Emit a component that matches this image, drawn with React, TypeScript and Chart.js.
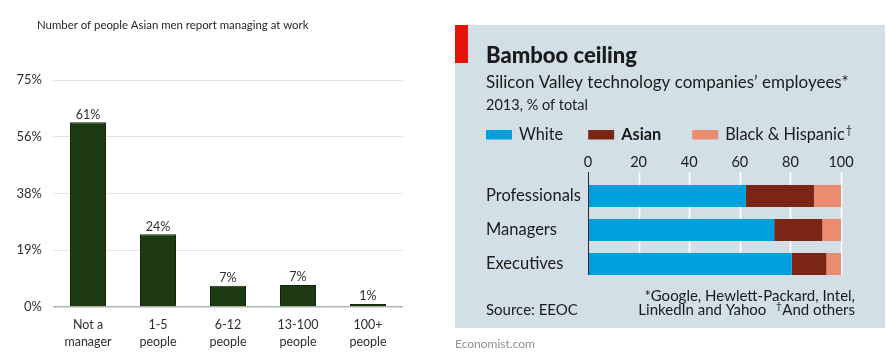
import { useEffect, useRef } from 'react';
import { Chart, registerables } from 'chart.js';

Chart.register(...registerables);

// ---------- Left chart data ----------
const managingTitle = 'Number of people Asian men report managing at work';
const managingCategories = [
  ['Not a', 'manager'],
  ['1-5', 'people'],
  ['6-12', 'people'],
  ['13-100', 'people'],
  ['100+', 'people'],
];
const managingShares = [61, 24, 7, 7.3, 1];
const managingTickValues = [0, 18.75, 37.5, 56.25, 75];

// ---------- Right chart data ----------
const panelTitle = 'Bamboo ceiling';
const panelSubtitle = 'Silicon Valley technology companies\u2019 employees*';
const panelUnits = '2013, % of total';
const roleCategories = ['Professionals', 'Managers', 'Executives'];
const seriesNames = ['White', 'Asian', 'Black & Hispanic'];
const whiteShares = [62.4, 73.6, 80.5];
const asianShares = [26.9, 19.0, 13.7];
const blackHispanicShares = [10.7, 7.4, 5.8];
const roleTickValues = [0, 20, 40, 60, 80, 100];
const highlightedSeries = 'Asian';
const legendGaps = [25, 31, 0];
const footnoteLine1 = '*Google, Hewlett-Packard, Intel,';
const footnoteLine2 = 'LinkedIn and Yahoo';
const footnoteOthers = 'And others';
const sourceText = 'Source: EEOC';
const creditText = 'Economist.com';

const GREEN = '#1d3a12';
const PANEL = '#d3dfe7';
const RED = '#e3120b';
const BLUE = '#00a0dc';
const BROWN = '#7b2516';
const SALMON = '#eb8b6f';
const INK = '#1a1a1a';
const LFONT = 'Lato';

const leftDecor = {
  id: 'leftDecor',
  afterDraw(chart: any) {
    const { ctx } = chart;
    ctx.save();
    ctx.fillStyle = '#262626';
    ctx.font = `11.4px ${LFONT}`;
    ctx.textAlign = 'left';
    ctx.textBaseline = 'alphabetic';
    ctx.fillText(managingTitle, 37, 29.3);
    const meta = chart.getDatasetMeta(0);
    ctx.font = `12.5px ${LFONT}`;
    ctx.fillStyle = '#2e2e2e';
    ctx.textAlign = 'center';
    meta.data.forEach((bar: any, i: number) => {
      const v = chart.data.datasets[0].data[i] as number;
      ctx.fillText(Math.round(v) + '%', bar.x, bar.y - 3.7);
    });
    ctx.restore();
  },
};

const rightDecor = {
  id: 'rightDecor',
  beforeDraw(chart: any) {
    const { ctx } = chart;
    ctx.save();
    ctx.fillStyle = PANEL;
    ctx.fillRect(10, 25, 430, 303);
    ctx.fillStyle = RED;
    ctx.fillRect(10, 25, 13, 38);
    ctx.restore();
  },
  beforeDatasetsDraw(chart: any) {
    const { ctx, chartArea } = chart;
    const xs = chart.scales.x;
    const meta = chart.getDatasetMeta(0);
    const last: any = meta.data[meta.data.length - 1];
    const bottom = last.y + last.height / 2;
    ctx.save();
    ctx.strokeStyle = '#ffffff';
    ctx.lineWidth = 1.6;
    xs.ticks.forEach((t: any) => {
      if (t.value === 0) return;
      const px = Math.round(xs.getPixelForValue(t.value)) + 0.5;
      ctx.beginPath();
      ctx.moveTo(px, chartArea.top - 7);
      ctx.lineTo(px, bottom);
      ctx.stroke();
    });
    ctx.restore();
  },
  afterDatasetsDraw(chart: any) {
    const { ctx, chartArea } = chart;
    const xs = chart.scales.x;
    const meta = chart.getDatasetMeta(0);
    const last: any = meta.data[meta.data.length - 1];
    const bottom = last.y + last.height / 2;
    const px = Math.round(xs.getPixelForValue(0)) + 0.5;
    ctx.save();
    ctx.strokeStyle = '#262626';
    ctx.lineWidth = 1;
    ctx.beginPath();
    ctx.moveTo(px, chartArea.top - 7);
    ctx.lineTo(px, bottom);
    ctx.stroke();
    ctx.restore();
  },
  afterDraw(chart: any) {
    const { ctx } = chart;
    ctx.save();
    ctx.textBaseline = 'alphabetic';
    ctx.textAlign = 'left';
    ctx.fillStyle = INK;
    ctx.font = `900 22px ${LFONT}`;
    ctx.fillText(panelTitle, 41, 63.3);
    ctx.font = `17px ${LFONT}`;
    ctx.fillText(panelSubtitle, 41, 88.3);
    ctx.font = `14.5px ${LFONT}`;
    ctx.fillText(panelUnits, 41, 110);

    // legend
    let x = 41;
    chart.data.datasets.forEach((ds: any, i: number) => {
      ctx.fillStyle = ds.backgroundColor;
      ctx.fillRect(x, 130, 26, 9.5);
      x += 26 + 7;
      ctx.fillStyle = INK;
      ctx.font = `${ds.label === highlightedSeries ? 'bold ' : ''}16.3px ${LFONT}`;
      ctx.fillText(ds.label, x, 139.5);
      x += ctx.measureText(ds.label).width;
      if (i === chart.data.datasets.length - 1) {
        ctx.font = `11px ${LFONT}`;
        ctx.fillText('\u2020', x + 1, 134);
      }
      x += legendGaps[i];
    });

    // footnotes
    ctx.font = `15px ${LFONT}`;
    ctx.fillStyle = INK;
    ctx.fillText(sourceText, 41, 315);
    ctx.textAlign = 'right';
    ctx.fillText(footnoteLine1, 410, 300.5);
    ctx.fillText(footnoteOthers, 410, 315);
    const ow = ctx.measureText(footnoteOthers).width;
    ctx.font = `10px ${LFONT}`;
    ctx.fillText('\u2020', 410 - ow - 0.5, 309);
    ctx.font = `15px ${LFONT}`;
    ctx.fillText(footnoteLine2, 410 - ow - 16, 315);

    ctx.textAlign = 'left';
    ctx.fillStyle = '#8f8f8f';
    ctx.font = `12px ${LFONT}`;
    ctx.fillText(creditText, 10, 348);
    ctx.restore();
  },
};

export default function App() {
  const leftRef = useRef<HTMLCanvasElement>(null);
  const rightRef = useRef<HTMLCanvasElement>(null);

  useEffect(() => {
    const left = new Chart(leftRef.current as HTMLCanvasElement, {
      type: 'bar',
      data: {
        labels: managingCategories as any,
        datasets: [
          {
            label: 'Asian men',
            data: managingShares,
            backgroundColor: GREEN,
            borderColor: '#132a0a',
            borderWidth: 1,
            categoryPercentage: 1,
            barPercentage: 0.515,
          },
        ],
      },
      options: {
        animation: false,
        responsive: false,
        maintainAspectRatio: false,
        layout: { padding: { top: 80, right: 37, left: 0, bottom: 0 } },
        plugins: { legend: { display: false }, tooltip: { enabled: false }, title: { display: false } },
        scales: {
          x: {
            grid: { display: false, drawTicks: false },
            border: { display: false },
            ticks: {
              color: '#2e2e2e',
              font: { family: LFONT, size: 12.5, lineHeight: 1.34 },
              padding: 10,
              maxRotation: 0,
              autoSkip: false,
            },
            afterFit: (s: any) => {
              s.height = 54;
            },
          },
          y: {
            min: 0,
            max: 75,
            afterBuildTicks: (s: any) => {
              s.ticks = managingTickValues.map((v) => ({ value: v }));
            },
            ticks: {
              callback: (v: any) => Math.round(Number(v)) + '%',
              color: '#2e2e2e',
              font: { family: LFONT, size: 13 },
              padding: 11,
            },
            grid: {
              drawTicks: false,
              color: (c: any) => (c.tick && c.tick.value === 0 ? '#b3b3b3' : '#e4e4e4'),
              lineWidth: (c: any) => (c.tick && c.tick.value === 0 ? 1.5 : 1),
            },
            border: { display: false },
            afterFit: (s: any) => {
              s.width = 53;
            },
          },
        },
      },
      plugins: [leftDecor],
    });

    const colors = [BLUE, BROWN, SALMON];
    const series = [whiteShares, asianShares, blackHispanicShares];
    const right = new Chart(rightRef.current as HTMLCanvasElement, {
      type: 'bar',
      data: {
        labels: roleCategories,
        datasets: series.map((d, i) => ({
          label: seriesNames[i],
          data: d,
          backgroundColor: colors[i],
          borderWidth: 0,
          categoryPercentage: 1,
          barPercentage: 0.65,
        })),
      },
      options: {
        indexAxis: 'y',
        animation: false,
        responsive: false,
        maintainAspectRatio: false,
        layout: { padding: { top: 0, right: 45, left: 41, bottom: 80 } },
        plugins: { legend: { display: false }, tooltip: { enabled: false }, title: { display: false } },
        scales: {
          x: {
            position: 'top',
            stacked: true,
            min: 0,
            max: 100,
            afterBuildTicks: (s: any) => {
              s.ticks = roleTickValues.map((v) => ({ value: v }));
            },
            grid: { display: false, drawTicks: false },
            border: { display: false },
            ticks: { color: INK, font: { family: LFONT, size: 14.5 }, padding: 8 },
            afterFit: (s: any) => {
              s.height = 179;
            },
          },
          y: {
            stacked: true,
            grid: { display: false, drawTicks: false },
            border: { display: false },
            ticks: { color: INK, font: { family: LFONT, size: 16.5 }, crossAlign: 'far' },
            afterFit: (s: any) => {
              s.width = 102;
            },
          },
        },
      },
      plugins: [rightDecor],
    });

    return () => {
      left.destroy();
      right.destroy();
    };
  }, []);

  return (
    <div style={{ position: 'fixed', left: 0, top: 0, width: 886, height: 361, background: '#fff', overflow: 'hidden' }}>
      <canvas ref={leftRef} width={440} height={361} style={{ position: 'absolute', left: 0, top: 0, width: 440, height: 361 }} />
      <canvas ref={rightRef} width={441} height={361} style={{ position: 'absolute', left: 445, top: 0, width: 441, height: 361 }} />
    </div>
  );
}
